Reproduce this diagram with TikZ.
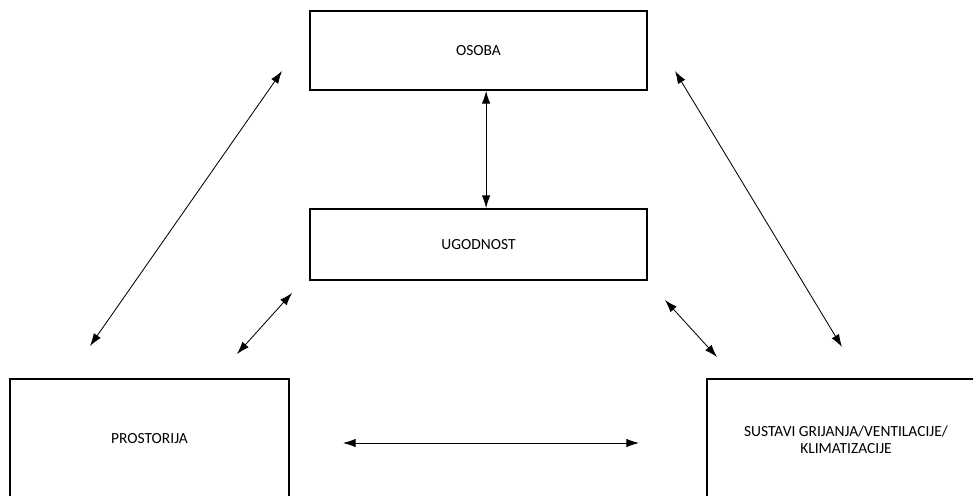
\documentclass[tikz,border=0pt]{standalone}
\usepackage{fontspec}
\setmainfont{Carlito}
\usetikzlibrary{positioning, arrows.meta}
\tikzset{
  kutija/.style={draw, line width=1.3pt, align=center, font=\fontsize{11}{12}\selectfont},
  veza/.style={{Latex[length=9pt,width=6pt]}-{Latex[length=9pt,width=6pt]}, line width=0.6pt}
}
\begin{document}
\begin{tikzpicture}[x=0.025cm, y=-0.025cm]
        \useasboundingbox (0,0) rectangle (973,495);
        \clip (0,0) rectangle (973,495);
        % Kutije
        \node[kutija, minimum width=8.425cm, minimum height=1.975cm] (osoba) at (478.5,50.5) {OSOBA};
        \node[kutija, minimum width=8.425cm, minimum height=1.775cm] (ugodnost) at (478.5,244.5) {UGODNOST};
        \node[kutija, minimum width=6.975cm, minimum height=3cm] (prostorija) at (149.5,439) {PROSTORIJA};
        \node[kutija, minimum width=6.95cm, minimum height=3.05cm] (sustavi) at (846,440) {SUSTAVI GRIJANJA/VENTILACIJE/\\KLIMATIZACIJE};
        % Krajevi strelica
        \coordinate (lg) at (282,71);
        \coordinate (ld) at (90,346);
        \coordinate (dg) at (675,71);
        \coordinate (dd) at (842,347);
        \coordinate (ulg) at (292,293);
        \coordinate (uld) at (237,354);
        \coordinate (udg) at (665,300);
        \coordinate (udd) at (717,357);
        \coordinate (hl) at (343,443);
        \coordinate (hd) at (639,443);
        % Strelice
        \draw[veza] ([xshift=0.19cm]osoba.south) -- ([xshift=0.19cm]ugodnost.north);
        \draw[veza] (lg) -- (ld);
        \draw[veza] (dg) -- (dd);
        \draw[veza] (ulg) -- (uld);
        \draw[veza] (udg) -- (udd);
        \draw[veza] (hl) -- (hd);
    \end{tikzpicture}
\end{document}
